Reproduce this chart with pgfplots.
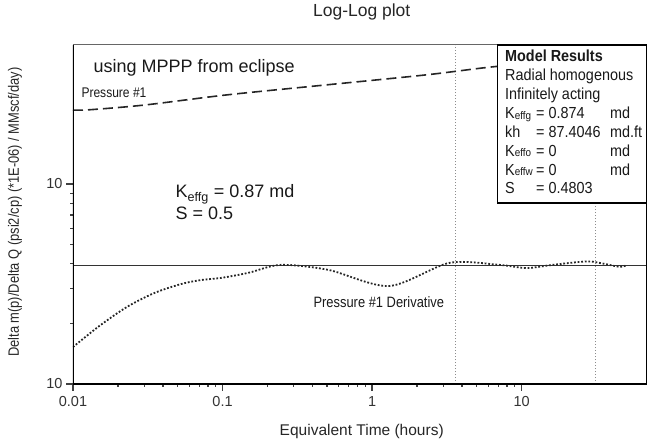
\documentclass[border=0pt]{standalone}
\usepackage{fontspec}
\setmainfont{Liberation Sans}
\newfontfamily\narrow[FakeStretch=0.86]{Liberation Sans}
\newfontfamily\boxfont[FakeStretch=0.9]{Liberation Sans}
\usepackage{pgfplots}
\pgfplotsset{compat=1.18}
\newcommand{\fs}[1]{\fontsize{#1bp}{1.2\dimexpr#1bp\relax}\selectfont}
\newcommand{\sk}[1]{K{\fontsize{11bp}{12bp}\selectfont\raisebox{-0.5bp}{#1}}}
\begin{document}
\begin{tikzpicture}
\begin{axis}[
  at={(0,0)}, anchor=south west,
  scale only axis, width=574bp, height=339bp,
  xmode=log, ymode=log,
  xmin=0.01, xmax=69, ymin=1, ymax=49.5,
  xtick={0.01,0.1,1,10}, xticklabels={0.01,0.1,1,10},
  ytick={1,10}, yticklabels={10,10},
  minor tick num=0,
  tick pos=left, tick align=outside,
  major tick length=7bp,
  every tick/.style={black!75, line width=1.2bp},
  /pgf/number format/assume math mode=true,
  tick label style={font=\fs{14.5}, text=black!80},
  xticklabel style={yshift=-2bp},
  axis line style={draw=none},
  title={Log-Log plot},
  title style={at={(axis description cs:0.503,1.0796)}, anchor=center, font=\fs{17.5}, text=black!85},
  xlabel={Equivalent Time (hours)},
  xlabel style={at={(axis description cs:0.503,-0.139)}, anchor=center, font=\fs{15.5}, text=black!85},
  ylabel={Delta m(p)/Delta Q (psi2/cp) (*1E-06) / MMscf/day)},
  ylabel style={at={(axis description cs:-0.101,0.507)}, anchor=center, font=\narrow\fs{15}, text=black!85},
  clip=true,
]
% reference lines
\addplot[black!80, line width=0.6bp] coordinates {(0.01,3.94) (69,3.94)};
\addplot[black!45, line width=0.8bp, dash pattern=on 1.5bp off 1.5bp] coordinates {(3.6,1) (3.6,49.5)};
\addplot[black!45, line width=0.8bp, dash pattern=on 1.5bp off 1.5bp] coordinates {(31,1) (31,49.5)};
% Pressure #1
\addplot[black!85, line width=1.6bp, dash pattern=on 10bp off 5bp, smooth] coordinates {
 (0.01,23.4) (0.013,23.5) (0.03,24.8) (0.108,27.9) (0.5,31.3) (2.3,35.1) (6.4,38.5) (20,41.5) (50,44)};
% Pressure #1 Derivative
\addplot[black!85, line width=1.8bp, dash pattern=on 1.8bp off 1.8bp, smooth, tension=0.5] coordinates {
 (0.01,1.53) (0.015,1.95) (0.023,2.43) (0.035,2.85) (0.052,3.15) (0.07,3.3) (0.1,3.4) (0.15,3.6) (0.245,3.94) (0.51,3.72) (1.3,3.09)
 (3.29,4.03) (7.1,3.94) (10.8,3.8) (16.1,3.94) (27.3,4.1) (35,4.0) (45.5,3.85) (50.7,3.94)};
% frame
\draw[black!60, line width=1bp] (rel axis cs:0,1) -- (rel axis cs:1,1);
\draw[black, line width=2bp] (rel axis cs:0,1) -- (rel axis cs:0,0) -- (rel axis cs:1,0) -- (rel axis cs:1,1);
% texts
\node[anchor=base west, font=\fs{18}, text=black!90] at (axis description cs:0.0296,0.920) {using MPPP from eclipse};
\node[anchor=base west, font=\narrow\fs{14}, text=black!90] at (axis description cs:0.0087,0.844) {Pressure \#1};
\node[anchor=base west, font=\fs{18}, text=black!90] at (axis description cs:0.1725,0.5487) {K\textsubscript{effg} = 0.87 md};
\node[anchor=base west, font=\fs{18}, text=black!90] at (axis description cs:0.1725,0.4838) {S = 0.5};
\node[anchor=base west, font=\narrow\fs{15}, text=black!90] at (axis description cs:0.413,0.227) {Pressure \#1 Derivative};
% model results box
\draw[black, line width=1.1bp, fill=white] (axis description cs:0.739,0.534) rectangle (axis description cs:1,1);
\draw[black, line width=2bp] (rel axis cs:1,0.53) -- (rel axis cs:1,1);
\node[anchor=base west, inner sep=0pt, text=black!90] at (axis description cs:0.7526,0.9499) {\boxfont\fontsize{16bp}{18.86bp}\selectfont
\begin{tabular}[t]{@{}p{31bp}@{}p{74bp}@{}l@{}}
\multicolumn{3}{@{}l@{}}{\bfseries Model Results}\\
\multicolumn{3}{@{}l@{}}{Radial homogenous}\\
\multicolumn{3}{@{}l@{}}{Infinitely acting}\\
\sk{effg} & = 0.874 & md\\
kh & = 87.4046 & md.ft\\
\sk{effo} & = 0 & md\\
\sk{effw} & = 0 & md\\
S & = 0.4803 & \\
\end{tabular}};
\end{axis}
\pgfresetboundingbox
\path[use as bounding box] (-73bp,-59bp) rectangle (582bp,384bp);
\end{tikzpicture}
\end{document}
